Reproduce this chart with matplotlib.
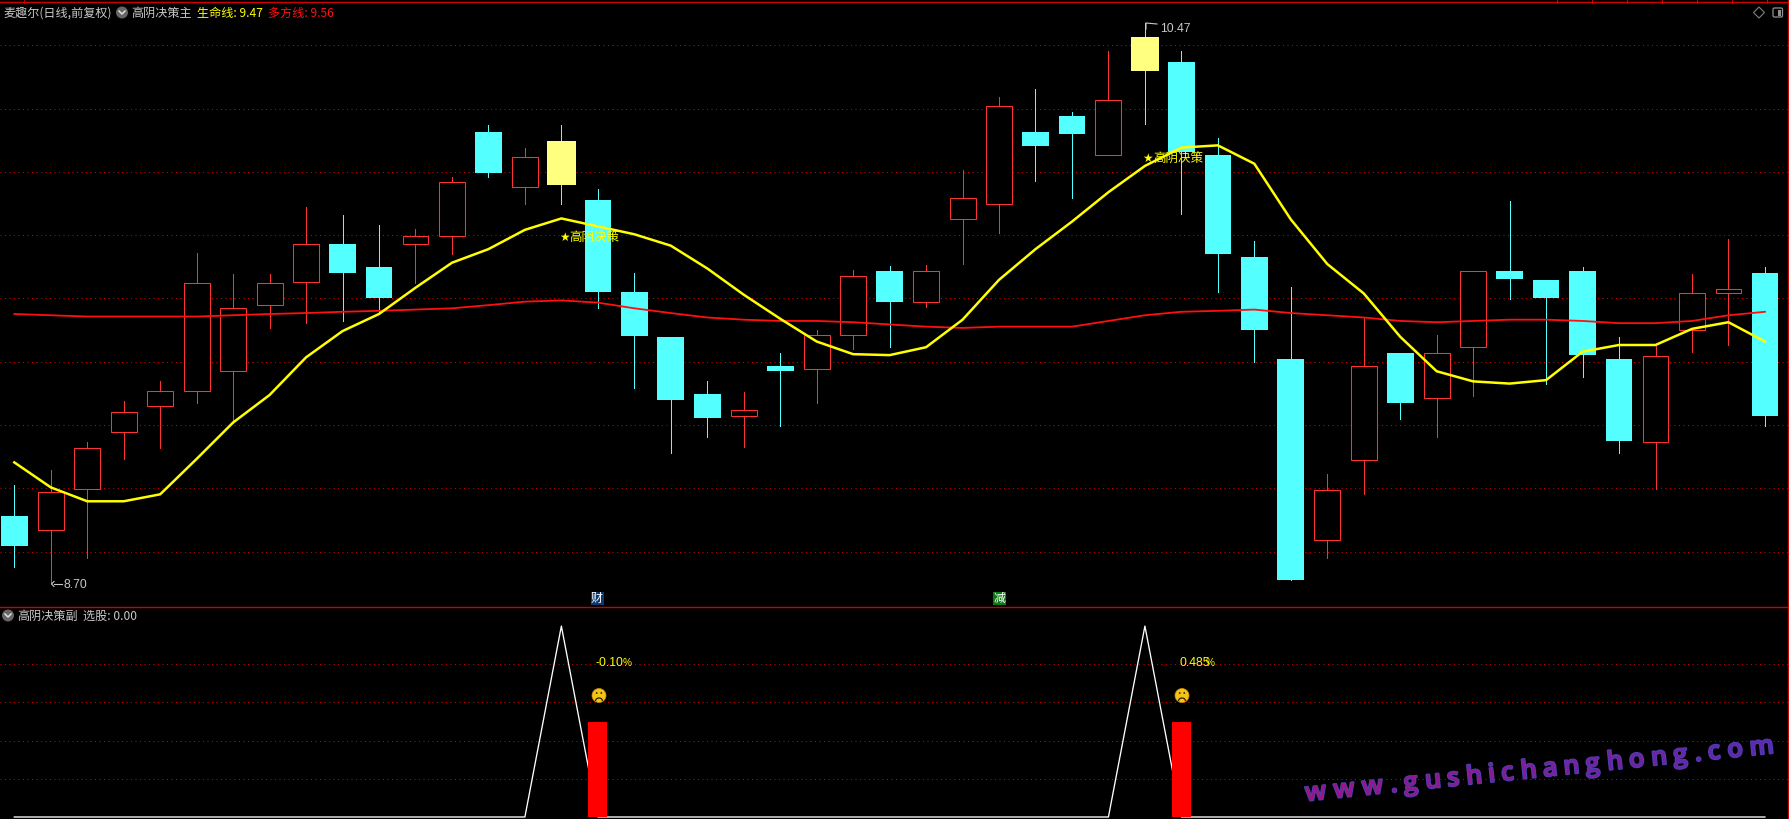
import numpy as np
import matplotlib
matplotlib.use("Agg")
import matplotlib.pyplot as plt
from matplotlib.patches import Circle, Rectangle, Arc, Polygon, FancyBboxPatch
from matplotlib.textpath import TextPath
from matplotlib.font_manager import FontProperties
from matplotlib import patheffects as pe

plt.rcParams['font.family'] = ['Noto Sans CJK SC', 'DejaVu Sans']

# --- data ---
highs = [9.010,9.057,9.147,9.277,9.338,9.745,9.677,9.677,9.889,9.864,9.832,9.821,9.983,10.149,10.077,10.149,9.947,9.680,9.479,9.338,9.305,9.428,9.500,9.691,9.702,9.706,10.005,10.236,10.261,10.189,10.383,10.470,10.383,10.106,9.781,9.637,9.046,9.540,9.428,9.486,9.688,9.908,9.659,9.698,9.479,9.453,9.677,9.789,9.698]
body_top = [8.913,8.988,9.129,9.241,9.309,9.648,9.569,9.648,9.771,9.771,9.698,9.796,9.969,10.127,10.048,10.099,9.911,9.619,9.479,9.298,9.248,9.388,9.486,9.670,9.688,9.688,9.918,10.210,10.127,10.178,10.228,10.427,10.347,10.055,9.731,9.410,8.995,9.388,9.428,9.428,9.688,9.688,9.659,9.688,9.410,9.417,9.616,9.630,9.680]
body_bot = [8.819,8.869,8.999,9.179,9.259,9.309,9.370,9.579,9.652,9.680,9.601,9.771,9.796,9.998,9.951,9.958,9.619,9.482,9.280,9.223,9.230,9.370,9.378,9.486,9.590,9.590,9.850,9.900,10.081,10.120,10.055,10.318,10.063,9.742,9.500,8.711,8.837,9.089,9.269,9.287,9.446,9.662,9.601,9.421,9.150,9.147,9.500,9.616,9.230]
lows = [8.750,8.700,8.779,9.093,9.129,9.269,9.208,9.507,9.522,9.529,9.551,9.648,9.742,9.983,9.900,9.900,9.569,9.316,9.111,9.161,9.132,9.197,9.269,9.439,9.446,9.572,9.709,9.807,9.972,9.918,10.055,10.153,9.868,9.619,9.399,8.711,8.779,8.981,9.219,9.161,9.291,9.597,9.331,9.352,9.111,8.999,9.432,9.453,9.197]
# c = cyan falling, r = red rising, y = highlighted
kinds = ['c','r','r','r','r','r','r','r','r','c','c','r','r','c','r','y','c','c','c','c','r','c','r','r','c','r','r','r','c','c','r','y','c','c','c','c','r','r','c','r','r','c','c','c','c','r','r','r','c']
life_line = [9.082,9.003,8.959,8.959,8.981,9.093,9.208,9.295,9.414,9.497,9.551,9.634,9.713,9.756,9.817,9.853,9.828,9.803,9.767,9.695,9.612,9.536,9.464,9.424,9.421,9.446,9.533,9.659,9.756,9.843,9.936,10.019,10.077,10.084,10.026,9.850,9.709,9.616,9.479,9.370,9.338,9.331,9.342,9.432,9.453,9.453,9.504,9.525,9.464]
trend_line = [9.551,9.547,9.543,9.543,9.543,9.543,9.547,9.551,9.554,9.558,9.561,9.565,9.569,9.579,9.590,9.594,9.587,9.569,9.554,9.540,9.533,9.529,9.529,9.525,9.518,9.511,9.507,9.511,9.511,9.511,9.529,9.547,9.558,9.561,9.565,9.554,9.547,9.540,9.529,9.525,9.529,9.533,9.533,9.529,9.522,9.522,9.529,9.547,9.558]
signal = [0]*15 + [1] + [0]*15 + [1] + [0]*17
signal_bars = {16: 0.5, 32: 0.5}
price_grid = [10.4,10.2,10.0,9.8,9.6,9.4,9.2,9.0,8.8]
sub_grid = [0.8,0.6,0.4,0.2]

W, H = 1789, 819
fig = plt.figure(figsize=(W/100, H/100), dpi=100, facecolor='black')
SPLIT = 606
ax = fig.add_axes([0, 1-SPLIT/H, 1, SPLIT/H], facecolor='black')
sub = fig.add_axes([0, 0, 1, 1-SPLIT/H], facecolor='black')
ov = fig.add_axes([0, 0, 1, 1], facecolor='none')
ov.set_xlim(0, W); ov.set_ylim(H, 0); ov.axis('off')
for a in (ax, sub):
    a.axis('off')
    a.set_xlim(-0.392, 48.66)
ax.set_ylim(8.628, 10.5435)
sub.set_ylim(-0.0105, 1.105)

GRID = '#d00000'
for g in price_grid:
    ax.axhline(g, color=GRID, lw=0.72, ls=(0, (1, 3.5)), zorder=1)
for g in sub_grid:
    sub.axhline(g, color=GRID, lw=0.72, ls=(0, (1, 3.5)), zorder=1)

CY, RD, YL = '#54ffff', '#ff3232', '#ffff80'
for i, k in enumerate(kinds):
    wick = RD if k == 'r' else CY
    ax.vlines(i, lows[i], highs[i], color=wick, lw=0.72, zorder=2, antialiased=False)
    h = body_top[i]-body_bot[i]
    if k == 'r':
        ax.bar(i, h, 0.71, bottom=body_bot[i], facecolor='black', edgecolor=RD, lw=0.75, zorder=3)
    elif k == 'c':
        ax.bar(i, h, 0.73, bottom=body_bot[i], color=CY, lw=0, zorder=3)
    else:
        ax.bar(i, h, 0.79, bottom=body_bot[i], color=YL, lw=0, zorder=3)

x = np.arange(len(life_line))
ax.plot(x, trend_line, color='#ff1010', lw=1.3, zorder=4)
ax.plot(x, life_line, color='#ffff00', lw=1.8, zorder=5)

# star labels
for i, p in ((15, 9.793), (31, 10.043)):
    ax.text(i-0.07, p, '★', color='#ffff00', fontsize=8.5, family='DejaVu Sans', va='center', ha='left', zorder=6)
    ax.text(i+0.22, p, '高阴决策', color='#ffff00', fontsize=9, va='center', ha='left', zorder=6)

# sub panel
sub.plot(np.arange(len(signal)), signal, color='#ffffff', lw=0.95, zorder=3)
sub.bar(list(signal_bars), list(signal_bars.values()), 0.52, color='#ff0000', lw=0, zorder=4)

# frame
LINE = '#d00000'
ov.plot([0, W], [606.5, 606.5], color=LINE, lw=1.0)
ov.plot([0, W], [2, 2], color=LINE, lw=1.0)
for tx in (23.5, 1556.5, 1591.5, 1626.5, 1661.5, 1696.5, 1731.5, 1766.5):
    ov.plot([tx, tx], [0, 3], color=LINE, lw=0.8)
ov.plot([W-0.8, W-0.8], [0, H], color=LINE, lw=1.0)

def T(x, y, s, c, size=8.7, **k):
    ov.text(x, y, s, color=c, fontsize=size, va='center', ha=k.pop('ha', 'left'), **k)

def chevron(cx, cy):
    ov.add_patch(Circle((cx, cy), 6, color='#666666', lw=0))
    ov.plot([cx-3, cx, cx+3], [cy-1.5, cy+1.5, cy-1.5], color='#e0e0e0', lw=1.1)

GR = '#c8c8c8'
T(3, 13, '麦趣尔(日线,前复权)', GR)
chevron(122, 12.5)
T(131, 13, '高阴决策主', GR)
T(197, 13, '生命线: 9.47', '#ffff00')
T(268, 13, '多方线: 9.56', '#ff1010')
chevron(8, 615.5)
T(17, 616, '高阴决策副', GR)
T(83, 616, '选股: 0.00', GR)

T(1160, 28.5, '10.47', GR, size=8.8, family='Liberation Sans')
ov.plot([1146, 1146, 1157], [29, 23, 24], color=GR, lw=0.8)
T(64, 585, '8.70', GR, size=8.8, family='Liberation Sans')
ov.plot([54, 62], [584, 584], color=GR, lw=0.8)
ov.plot([54, 51.5, 54], [581.5, 584, 586.5], color=GR, lw=0.8)

# top-right icons
ov.add_patch(Polygon([(1759, 7), (1764.5, 12.5), (1759, 18), (1753.5, 12.5)], fill=False, ec='#808080', lw=0.8))
ov.add_patch(FancyBboxPatch((1773, 8), 9.5, 9, boxstyle='round,pad=0,rounding_size=1.5', fill=False, ec='#909090', lw=0.9))
ov.add_patch(Rectangle((1778, 9.5), 3, 6, color='#909090', lw=0))

# tags
for cx, s, bg in ((597, '财', '#0a3a70'), (999.5, '减', '#0a7a14')):
    ov.add_patch(Rectangle((cx-6.5, 592), 13, 13, color=bg, lw=0))
    T(cx, 598.5, s, '#ffffff', size=8.6, ha='center')

# percentages and faces
for cx, s in ((595, '-0.10'), (1179, '0.485')):
    T(cx, 662.5, s, '#ffff00', size=8.8, family='Liberation Sans')
for xp in (623, 1206):
    T(xp, 663.5, '%', '#ffff00', size=7.2, family='Liberation Sans')
for cx in (599, 1182):
    ov.add_patch(Circle((cx, 695.5), 7, color='#f2c418', ec='#d09000', lw=0.5))
    ov.add_patch(Circle((cx-2.3, 693), 0.9, color='#302000', lw=0))
    ov.add_patch(Circle((cx+2.3, 693), 0.9, color='#302000', lw=0))
    ov.add_patch(Arc((cx, 701), 7, 6, theta1=180, theta2=360, color='#302000', lw=0.9))

# watermark
wm = 'www.gushichanghong.com'
fp = FontProperties(family='Open Sans', weight='semibold', size=18.5)
adv = [TextPath((0, 0), ch, prop=fp).get_extents().x1 + 1 for ch in wm]
x0, y0, x1, y1 = 1306, 801, 1774, 753
total = sum(adv)
track = ((np.hypot(x1-x0, y1-y0)) - total*100/72) / (len(wm)-1)
ang = np.arctan2(y0-y1, x1-x0)
pos = 0
c0, c1 = np.array([0x9c, 0x14, 0x84])/255, np.array([0x60, 0x28, 0xb0])/255
for n, ch in enumerate(wm):
    f = n/(len(wm)-1)
    col = c0*(1-f)+c1*f
    ov.text(x0+pos*np.cos(ang), y0-pos*np.sin(ang), ch, fontproperties=fp, color=col,
            rotation=np.degrees(ang), rotation_mode='anchor', ha='left', va='baseline',
            path_effects=[pe.withStroke(linewidth=1.4, foreground='#4a40b0')], zorder=8)
    pos += adv[n]*100/72 + track

fig.savefig('out.png', dpi=100, facecolor='black')
